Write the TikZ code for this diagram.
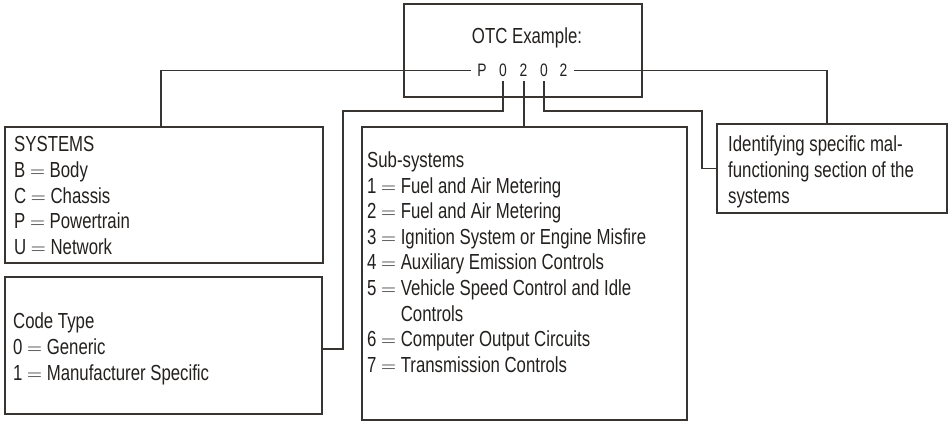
\documentclass[tikz,border=0pt]{standalone}
\usepackage{fontspec}
\setmainfont{Liberation Sans}[FakeStretch=0.77]
\definecolor{linec}{RGB}{55,52,50}
\definecolor{textc}{RGB}{35,32,30}
\newcommand{\eqs}{$=$}
\begin{document}
\begin{tikzpicture}[x=1pt,y=-1pt,
  box/.style={draw=linec,line width=1.2pt,inner sep=0pt,outer sep=0pt,anchor=north west},
  txt/.style={text=textc,font=\fontsize{21.8}{25.6}\selectfont,align=left,inner sep=0pt,anchor=north west},
  digit/.style={text=textc,font=\fontsize{18}{20}\selectfont,inner xsep=6.5pt,inner ysep=4.5pt,outer sep=0pt,anchor=center},
  conn/.style={draw=linec,line width=1.2pt},
  thickconn/.style={draw=linec,line width=2pt}]
\useasboundingbox (0,0) rectangle (949,422);
% boxes
\node[box,minimum width=238pt,minimum height=93pt] (otc) at (404,4) {};
\node[box,minimum width=318pt,minimum height=136pt] (sys) at (5,127) {};
\node[box,minimum width=317pt,minimum height=137pt] (code) at (5,277) {};
\node[box,minimum width=325pt,minimum height=293pt] (sub) at (362,127) {};
\node[box,minimum width=230pt,minimum height=89pt] (ident) at (717,124) {};
% texts
\node[txt,anchor=north] (otct) at (527,28) {OTC Example:};
\node[digit] (p) at (482,70.5) {P};
\node[digit] (d1) at (503,70.5) {0};
\node[digit] (d2) at (523.5,70.5) {2};
\node[digit] (d3) at (544,70.5) {0};
\node[digit] (d4) at (563.5,70.5) {2};
\node[txt] (syst) at (14,136.5) {SYSTEMS\\B \eqs{} Body\\C \eqs{} Chassis\\P \eqs{} Powertrain\\U \eqs{} Network};
\node[txt] (codet) at (13,313) {Code Type\\0 \eqs{} Generic\\1 \eqs{} Manufacturer Specific};
\node[txt] (subt) at (367,151.5) {Sub-systems\\1 \eqs{} Fuel and Air Metering\\2 \eqs{} Fuel and Air Metering\\3 \eqs{} Ignition System or Engine Misfire\\4 \eqs{} Auxiliary Emission Controls\\5 \eqs{} Vehicle Speed Control and Idle\\\hphantom{5 \eqs{} }Controls\\6 \eqs{} Computer Output Circuits\\7 \eqs{} Transmission Controls};
\node[txt] (identt) at (728,136) {Identifying specific mal-\\functioning section of the\\systems};
% connector end points on box edges
\coordinate (sysin) at (161,127);
\coordinate (codein) at (322,349);
\coordinate (identin) at (827,124);
% connectors
\draw[conn] (p.west) -| (sysin);
\draw[conn] (d4.east) -| (identin);
\draw[conn] (d1.south) |- (343,111) |- (codein);
\draw[thickconn] (d2.south) -- (d2.south |- sub.north);
\draw[conn] (d3.south) |- (702,111) |- (ident.west);
\end{tikzpicture}
\end{document}
